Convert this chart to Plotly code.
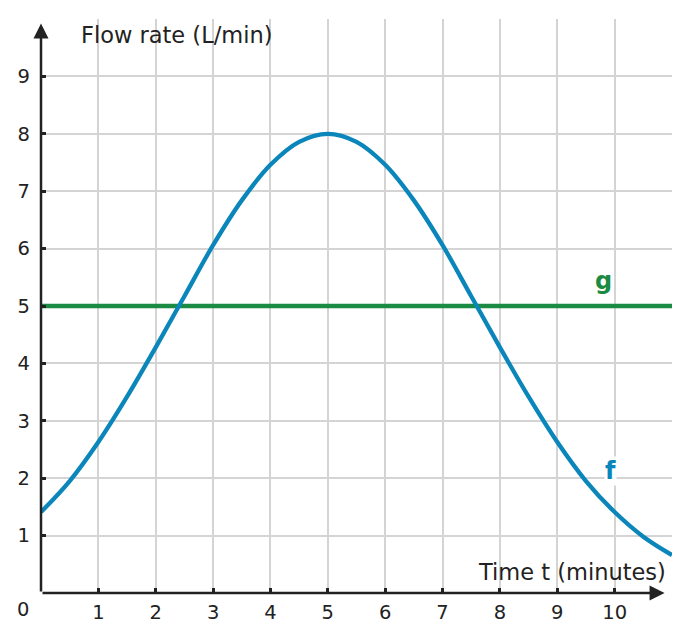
import plotly.graph_objects as go

# Data
t_values = [0, 0.5, 1, 1.5, 2, 2.5, 3, 3.5, 4, 4.5, 5, 5.5, 6, 6.5, 7, 7.5, 8, 8.5, 9, 9.5, 10, 10.5, 11]
f_values = [1.41, 1.95, 2.63, 3.42, 4.28, 5.17, 6.06, 6.84, 7.46, 7.86, 8.0, 7.86, 7.46, 6.84, 6.06, 5.17, 4.28, 3.42, 2.63, 1.95, 1.41, 0.98, 0.66]
g_t = [0, 11]
g_values = [5, 5]
x_ticks = [1, 2, 3, 4, 5, 6, 7, 8, 9, 10]
y_ticks = [1, 2, 3, 4, 5, 6, 7, 8, 9]

BLUE = "#0a86ba"
GREEN = "#1b8a42"
DARK = "#222222"
GRID = "#d4d4d4"
FONT = "DejaVu Sans"

fig = go.Figure()
fig.add_trace(go.Scatter(x=g_t, y=g_values, mode="lines",
                         line=dict(color=GREEN, width=4.3), cliponaxis=False, hoverinfo="skip"))
fig.add_trace(go.Scatter(x=t_values, y=f_values, mode="lines",
                         line=dict(color=BLUE, width=4.3, shape="spline", smoothing=1),
                         cliponaxis=False, hoverinfo="skip"))

# axes with arrows
fig.add_annotation(x=10.87, y=0, ax=0, ay=0, xref="x", yref="y", axref="x", ayref="y",
                   text="", showarrow=True, arrowhead=2, arrowsize=1.2, arrowwidth=2.5,
                   arrowcolor=DARK, standoff=0, startstandoff=0)
fig.add_annotation(x=0, y=9.92, ax=0, ay=0, xref="x", yref="y", axref="x", ayref="y",
                   text="", showarrow=True, arrowhead=2, arrowsize=1.2, arrowwidth=2.5,
                   arrowcolor=DARK, standoff=0, startstandoff=0)

# axis titles
fig.add_annotation(x=0.67, y=9.73, xref="x", yref="y", text="Flow rate (L/min)", showarrow=False,
                   xanchor="left", yanchor="middle", font=dict(family=FONT, size=22.5, color=DARK))
fig.add_annotation(x=10.93, y=0.36, xref="x", yref="y", text="Time t (minutes)", showarrow=False,
                   xanchor="right", yanchor="middle", font=dict(family=FONT, size=22.5, color=DARK))
# origin label
fig.add_annotation(x=-0.0285, y=-0.028, xref="paper", yref="paper", text="0", showarrow=False,
                   xanchor="center", yanchor="middle", font=dict(family=FONT, size=19.5, color=DARK))
# series labels
fig.add_annotation(x=9.81, y=5.43, xref="x", yref="y", text="<b>g</b>", showarrow=False,
                   xanchor="center", yanchor="middle", bgcolor="white", borderpad=0,
                   font=dict(family=FONT, size=24, color=GREEN))
fig.add_annotation(x=9.93, y=2.13, xref="x", yref="y", text="<b>f</b>", showarrow=False,
                   xanchor="center", yanchor="middle", bgcolor="white", borderpad=0,
                   font=dict(family=FONT, size=24, color=BLUE))

fig.update_layout(
    width=690, height=640,
    margin=dict(l=41, r=17.6, t=18.7, b=47.3),
    paper_bgcolor="white", plot_bgcolor="white",
    showlegend=False,
    xaxis=dict(range=[0, 11], tickvals=x_ticks, ticktext=[str(v) for v in x_ticks],
               showgrid=True, gridcolor=GRID, gridwidth=2, zeroline=False, showline=False,
               ticks="inside", ticklen=5, tickwidth=2.5, tickcolor=DARK, ticklabelstandoff=5,
               tickfont=dict(family=FONT, size=19.5, color=DARK), fixedrange=True),
    yaxis=dict(range=[0, 10], tickvals=y_ticks, ticktext=[str(v) for v in y_ticks],
               showgrid=True, gridcolor=GRID, gridwidth=2, zeroline=False, showline=False,
               ticks="inside", ticklen=5, tickwidth=2.5, tickcolor=DARK, ticklabelstandoff=10,
               tickfont=dict(family=FONT, size=19.5, color=DARK), fixedrange=True),
)

fig.write_html("out.html")
